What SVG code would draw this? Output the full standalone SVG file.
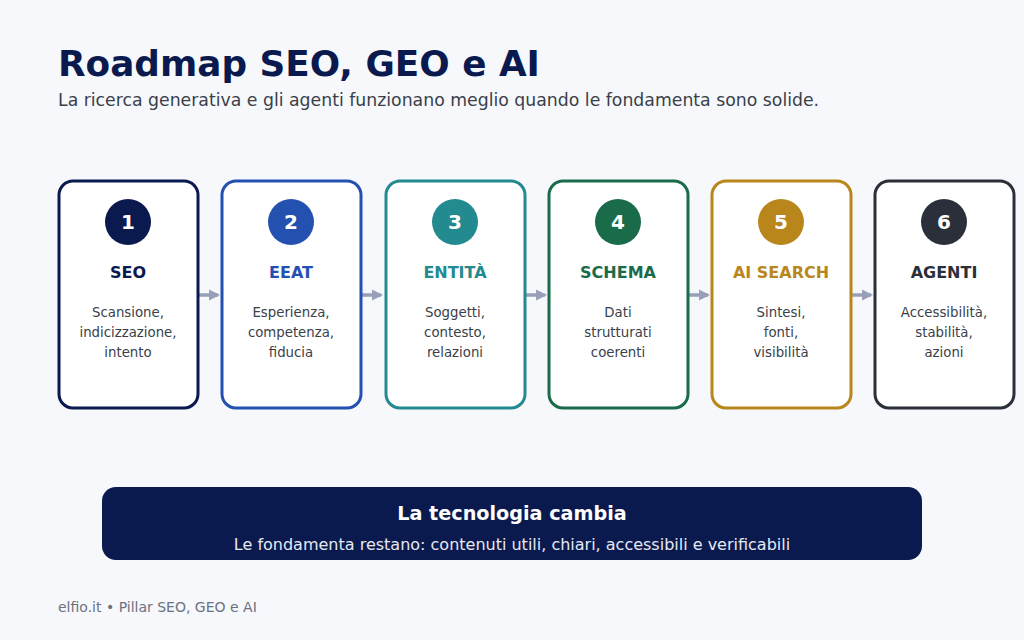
<svg xmlns="http://www.w3.org/2000/svg" width="1024" height="640" viewBox="0 0 1024 640">
<defs>
<style>
text{font-family:"DejaVu Sans","Liberation Sans",sans-serif}
.card{fill:#ffffff;stroke-width:3}
.num{fill:#ffffff;font-weight:bold;font-size:20px;text-anchor:middle}
.ttl{font-weight:bold;font-size:16px;text-anchor:middle}
.desc{fill:#3a3f4a;font-size:13.3px;text-anchor:middle}
.conn{stroke:#97a0b8;stroke-width:3.5;fill:none}
</style>
<marker id="ah" viewBox="0 0 10 10" refX="8" refY="5" markerWidth="3.2" markerHeight="3.2" orient="auto" markerUnits="strokeWidth">
<path d="M0,0 L10,5 L0,10 Z" fill="#97a0b8"/>
</marker>
</defs>
<rect width="1024" height="640" fill="#f6f8fc"/>
<text x="58" y="76" font-size="35.8" font-weight="bold" fill="#0b1a4e">Roadmap SEO, GEO e AI</text>
<text x="58" y="106" font-size="17.3" fill="#3a3f4a">La ricerca generativa e gli agenti funzionano meglio quando le fondamenta sono solide.</text>

<g id="connectors">
<line class="conn" x1="199" y1="295" x2="218" y2="295" marker-end="url(#ah)"/>
<line class="conn" x1="362" y1="295" x2="381" y2="295" marker-end="url(#ah)"/>
<line class="conn" x1="526" y1="295" x2="545" y2="295" marker-end="url(#ah)"/>
<line class="conn" x1="689" y1="295" x2="708" y2="295" marker-end="url(#ah)"/>
<line class="conn" x1="852" y1="295" x2="871" y2="295" marker-end="url(#ah)"/>
</g>

<g id="node1">
<rect class="card" x="59" y="181" width="139" height="227" rx="14" stroke="#0b1a4e"/>
<circle cx="128" cy="222" r="23" fill="#0b1a4e"/>
<text class="num" x="128" y="229">1</text>
<text class="ttl" x="128" y="278" fill="#0b1a4e">SEO</text>
<text class="desc" x="128" y="317">Scansione,</text>
<text class="desc" x="128" y="337">indicizzazione,</text>
<text class="desc" x="128" y="357">intento</text>
</g>
<g id="node2">
<rect class="card" x="222" y="181" width="139" height="227" rx="14" stroke="#2450b0"/>
<circle cx="291" cy="222" r="23" fill="#2450b0"/>
<text class="num" x="291" y="229">2</text>
<text class="ttl" x="291" y="278" fill="#2450b0">EEAT</text>
<text class="desc" x="291" y="317">Esperienza,</text>
<text class="desc" x="291" y="337">competenza,</text>
<text class="desc" x="291" y="357">fiducia</text>
</g>
<g id="node3">
<rect class="card" x="386" y="181" width="139" height="227" rx="14" stroke="#238a8f"/>
<circle cx="455" cy="222" r="23" fill="#238a8f"/>
<text class="num" x="455" y="229">3</text>
<text class="ttl" x="455" y="278" fill="#238a8f">ENTITÀ</text>
<text class="desc" x="455" y="317">Soggetti,</text>
<text class="desc" x="455" y="337">contesto,</text>
<text class="desc" x="455" y="357">relazioni</text>
</g>
<g id="node4">
<rect class="card" x="549" y="181" width="139" height="227" rx="14" stroke="#1a6b4a"/>
<circle cx="618" cy="222" r="23" fill="#1a6b4a"/>
<text class="num" x="618" y="229">4</text>
<text class="ttl" x="618" y="278" fill="#1a6b4a">SCHEMA</text>
<text class="desc" x="618" y="317">Dati</text>
<text class="desc" x="618" y="337">strutturati</text>
<text class="desc" x="618" y="357">coerenti</text>
</g>
<g id="node5">
<rect class="card" x="712" y="181" width="139" height="227" rx="14" stroke="#b8861b"/>
<circle cx="781" cy="222" r="23" fill="#b8861b"/>
<text class="num" x="781" y="229">5</text>
<text class="ttl" x="781" y="278" fill="#b8861b">AI SEARCH</text>
<text class="desc" x="781" y="317">Sintesi,</text>
<text class="desc" x="781" y="337">fonti,</text>
<text class="desc" x="781" y="357">visibilità</text>
</g>
<g id="node6">
<rect class="card" x="875" y="181" width="139" height="227" rx="14" stroke="#2a2f3a"/>
<circle cx="944" cy="222" r="23" fill="#2a2f3a"/>
<text class="num" x="944" y="229">6</text>
<text class="ttl" x="944" y="278" fill="#2a2f3a">AGENTI</text>
<text class="desc" x="944" y="317">Accessibilità,</text>
<text class="desc" x="944" y="337">stabilità,</text>
<text class="desc" x="944" y="357">azioni</text>
</g>

<g id="banner">
<rect x="102" y="487" width="820" height="73" rx="14" fill="#0b1a4e"/>
<text x="512" y="520" font-size="19.2" font-weight="bold" fill="#ffffff" text-anchor="middle">La tecnologia cambia</text>
<text x="512" y="550" font-size="16" fill="#e6e9f2" text-anchor="middle">Le fondamenta restano: contenuti utili, chiari, accessibili e verificabili</text>
</g>

<text x="58" y="612" font-size="14" fill="#6b7280">elfio.it • Pillar SEO, GEO e AI</text>
</svg>
